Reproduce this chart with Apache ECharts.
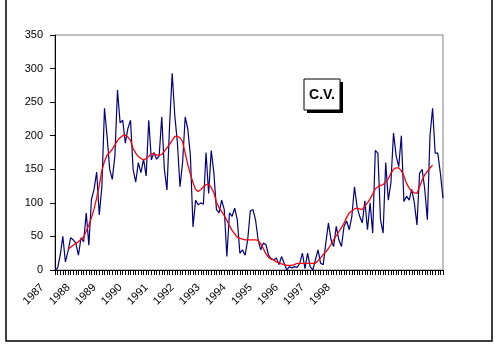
<!DOCTYPE html>
<html>
<head>
<meta charset="utf-8">
<script src="https://cdn.jsdelivr.net/npm/echarts@6/dist/echarts.min.js"></script>
<style>
html,body{margin:0;padding:0;background:#fff;}
#chart{width:500px;height:350px;}
</style>
</head>
<body>
<div id="chart"></div>
<script>
// Tick labels shown along the x axis (every 10th monthly category)
var tickLabels = ['1987','1988','1989','1990','1991','1992','1993','1994','1995','1996','1997','1998'];

// Monthly observations (blue)
var observed = [
  0,3,22,50,12,28,48,45,40,22,
  48,42,85,37,105,120,146,82,124,241,
  199,150,135,170,268,219,223,189,211,223,
  150,131,160,145,165,140,223,164,175,165,
  170,228,150,119,215,293,230,190,124,160,
  228,210,170,64,104,97,100,98,175,114,
  178,145,90,85,104,90,20,85,80,92,
  75,25,30,22,45,88,90,75,45,30,
  40,38,22,17,15,18,8,20,10,0,
  5,3,5,4,10,25,2,25,5,0,
  15,30,10,8,40,70,45,35,65,45,
  35,65,73,60,80,124,94,80,70,103,
  60,100,55,178,174,75,55,160,104,130,
  204,170,154,200,102,110,104,120,100,67,
  144,150,120,75,200,241,174,174,144,107
];

// Smoothed trend (red), null where not defined
var smoothed = [
  null,null,null,null,null,31,34,37,40,42,
  46,49,58,67,78,91,107,126,148,162,
  171,175,180,186,193,197,200,201,198,193,
  181,174,169,166,164,166,169,173,173,171,
  171,172,177,182,187,193,199,199,197,191,
  174,157,143,130,120,117,120,124,127,128,
  123,115,101,93,87,81,74,66,59,54,
  49,47,46,45,45,45,45,45,44,39,
  32,24,19,16,15,12,11,9,8,7,
  7,7,8,10,10,10,10,10,10,10,
  10,14,18,23,27,32,38,45,51,57,
  63,70,78,85,88,91,92,91,90,95,
  100,106,113,121,124,126,127,131,136,144,
  150,152,152,148,140,129,122,117,115,114,
  124,134,142,147,152,156,null,null,null,null
];

var categories = [];
for (var i = 0; i < observed.length; i++) categories.push('m' + i);

var FONT = 'Arial, "Liberation Sans", sans-serif';
var chart = echarts.init(document.getElementById('chart'), null, {renderer: 'canvas'});
chart.setOption({
  animation: false,
  backgroundColor: '#ffffff',
  grid: {left: 55, top: 35, right: 57, bottom: 80, show: true, borderColor: '#808080', borderWidth: 1, backgroundColor: '#ffffff'},
  xAxis: {
    type: 'category',
    data: categories,
    boundaryGap: false,
    axisLine: {lineStyle: {color: '#000', width: 1}},
    axisTick: {show: true, interval: 0, length: 5, lineStyle: {color: '#000', width: 1}},
    axisLabel: {
      interval: function (idx) { return idx % 10 === 0 && idx / 10 < tickLabels.length; },
      formatter: function (v, idx) { return tickLabels[idx / 10] || ''; },
      rotate: 45, margin: 3, padding: [0, 18, 0, 0],
      color: '#000', fontSize: 11, fontFamily: FONT
    },
    splitLine: {show: false}
  },
  yAxis: {
    type: 'value', min: 0, max: 350, interval: 50,
    axisLine: {show: true, lineStyle: {color: '#000', width: 1}},
    axisTick: {show: true, length: 5, lineStyle: {color: '#000'}},
    axisLabel: {color: '#000', fontSize: 11, fontFamily: FONT, margin: 12},
    splitLine: {show: false}
  },
  series: [
    {type: 'line', data: observed, symbol: 'none', lineStyle: {color: '#000080', width: 1.2}, z: 2},
    {type: 'line', data: smoothed, symbol: 'none', connectNulls: false, lineStyle: {color: '#ff0000', width: 1.3}, z: 3}
  ],
  graphic: [
    {type: 'polyline', shape: {points: [[6, 0], [6, 341], [492, 341], [492, 0]]}, style: {fill: null, stroke: '#000', lineWidth: 1.5}, silent: true, z: 100},
    {type: 'rect', shape: {x: 307, y: 82, width: 36, height: 31}, style: {fill: '#000'}, z: 101},
    {type: 'rect', shape: {x: 304, y: 79, width: 36, height: 31}, style: {fill: '#fff', stroke: '#000', lineWidth: 1}, z: 102},
    {type: 'text', x: 322, y: 95, style: {text: 'C.V.', font: 'bold 14px ' + FONT, fill: '#000', textAlign: 'center', textVerticalAlign: 'middle'}, z: 103}
  ]
});
</script>
</body>
</html>
